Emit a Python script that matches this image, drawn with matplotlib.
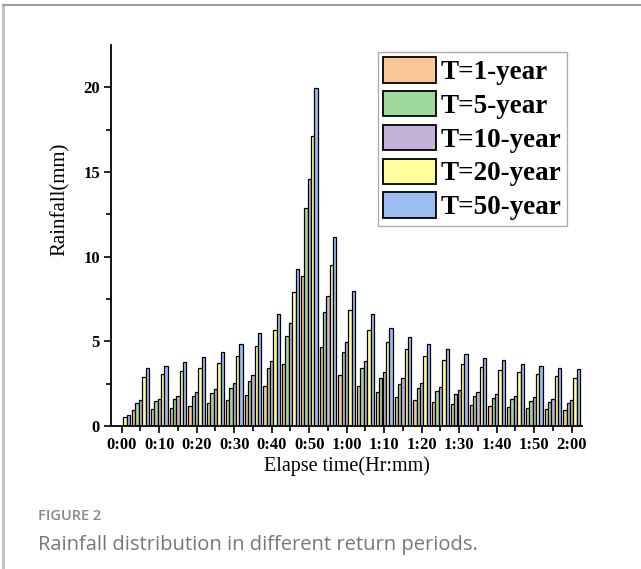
import numpy as np
import matplotlib
matplotlib.use("Agg")
from matplotlib import pyplot as plt
from matplotlib.lines import Line2D

# elapsed time of each rainfall block (minutes)
minutes = [0, 5, 10, 15, 20, 25, 30, 35, 40, 45, 50, 55, 60,
           65, 70, 75, 80, 85, 90, 95, 100, 105, 110, 115, 120]

# rainfall (mm) per return period
t1 = [0, 0.96, 1.02, 1.09, 1.21, 1.35, 1.53, 1.82, 2.34, 3.68, 8.88, 4.69, 3.03,
      2.34, 1.99, 1.73, 1.54, 1.42, 1.30, 1.24, 1.16, 1.10, 1.04, 0.98, 0.95]
t5 = [0, 1.37, 1.45, 1.59, 1.75, 1.92, 2.22, 2.63, 3.40, 5.34, 12.86, 6.76, 4.38,
      3.41, 2.85, 2.50, 2.25, 2.05, 1.89, 1.78, 1.68, 1.60, 1.50, 1.43, 1.36]
t10 = [0, 1.55, 1.61, 1.78, 1.98, 2.20, 2.53, 2.99, 3.86, 6.08, 14.60, 7.69, 4.95,
       3.85, 3.20, 2.84, 2.53, 2.32, 2.15, 2.01, 1.90, 1.80, 1.70, 1.62, 1.56]
t20 = [0.55, 2.89, 3.05, 3.24, 3.44, 3.74, 4.13, 4.70, 5.69, 7.92, 17.12, 9.53, 6.86,
       5.68, 4.96, 4.54, 4.14, 3.87, 3.64, 3.46, 3.33, 3.17, 3.07, 2.96, 2.86]
t50 = [0.65, 3.40, 3.56, 3.78, 4.05, 4.39, 4.84, 5.51, 6.63, 9.26, 19.96, 11.14, 7.99,
       6.63, 5.81, 5.27, 4.83, 4.54, 4.25, 4.04, 3.87, 3.69, 3.57, 3.45, 3.35]

series_labels = ["T=1-year", "T=5-year", "T=10-year", "T=20-year", "T=50-year"]
colors = ["#fac796", "#9fd99f", "#c3b3d9", "#ffff9c", "#9dbcf2"]

tick_minutes = [0, 10, 20, 30, 40, 50, 60, 70, 80, 90, 100, 110, 120]
tick_labels = ["0:00", "0:10", "0:20", "0:30", "0:40", "0:50", "1:00",
               "1:10", "1:20", "1:30", "1:40", "1:50", "2:00"]

serif = ["Liberation Serif", "DejaVu Serif"]

fig = plt.figure(figsize=(6.41, 5.69), dpi=100)
ax = fig.add_axes([111 / 641, 0.2513, 471 / 641, 0.6696])

x = np.array(minutes, dtype=float)
w = 0.9
for i, vals in enumerate([t1, t5, t10, t20, t50]):
    ax.bar(x + (i - 2) * w, vals, width=w, color=colors[i], edgecolor="black",
           linewidth=0.9, label=series_labels[i], zorder=2)

ax.set_xlim(-2.85, 122.75)
ax.set_ylim(0, 22.5)
ax.set_xticks(tick_minutes)
ax.set_xticklabels(tick_labels)
ax.set_xticks(minutes, minor=True)
ax.set_yticks([0, 5, 10, 15, 20])
ax.set_yticks([2.5, 7.5, 12.5, 17.5], minor=True)

for s in ["top", "right"]:
    ax.spines[s].set_visible(False)
for s in ["left", "bottom"]:
    ax.spines[s].set_linewidth(1.3)
    ax.spines[s].set_zorder(3)

ax.tick_params(which="major", direction="out", length=5, width=1.2, pad=3)
ax.tick_params(which="minor", direction="out", length=3.5, width=1.2)
for lab in ax.get_xticklabels() + ax.get_yticklabels():
    lab.set_fontfamily(serif)
    lab.set_fontweight("bold")
    lab.set_fontsize(12)

ax.set_xlabel("Elapse time(Hr:mm)", fontfamily=serif, fontsize=14.5, labelpad=2)
ax.set_ylabel("Rainfall(mm)", fontfamily=serif, fontsize=15)
ax.yaxis.set_label_coords(-0.088, 0.596)

leg = ax.legend(loc="upper left", bbox_to_anchor=(378 / 641, 1 - 52 / 569),
                bbox_transform=fig.transFigure, frameon=True, fancybox=False,
                prop={"family": serif, "weight": "bold", "size": 19.5},
                handlelength=1.95, handleheight=1.05, handletextpad=0.15,
                labelspacing=0.22, borderpad=0.2, borderaxespad=0)
leg.get_frame().set_edgecolor("#9a9a9a")
leg.get_frame().set_linewidth(1.0)
for p in leg.get_patches():
    p.set_linewidth(1.3)

# page frame (left and top rule)
fig.add_artist(Line2D([3 / 641, 3 / 641], [0, 1 - 5 / 569], transform=fig.transFigure,
                      color="#bdbdbd", linewidth=2))
fig.add_artist(Line2D([3 / 641, 1], [1 - 5 / 569, 1 - 5 / 569], transform=fig.transFigure,
                      color="#9e9e9e", linewidth=1.5))

fig.text(38 / 641, 1 - 516 / 569, "FIGURE 2", fontfamily="Open Sans", fontsize=10.5,
         fontweight="semibold", color="#8a8a8a", va="center")
fig.text(38 / 641, 1 - 545 / 569, "Rainfall distribution in different return periods.",
         fontfamily="Open Sans", fontsize=14.5, color="#777777", va="center")

fig.savefig("out.png", dpi=100)
